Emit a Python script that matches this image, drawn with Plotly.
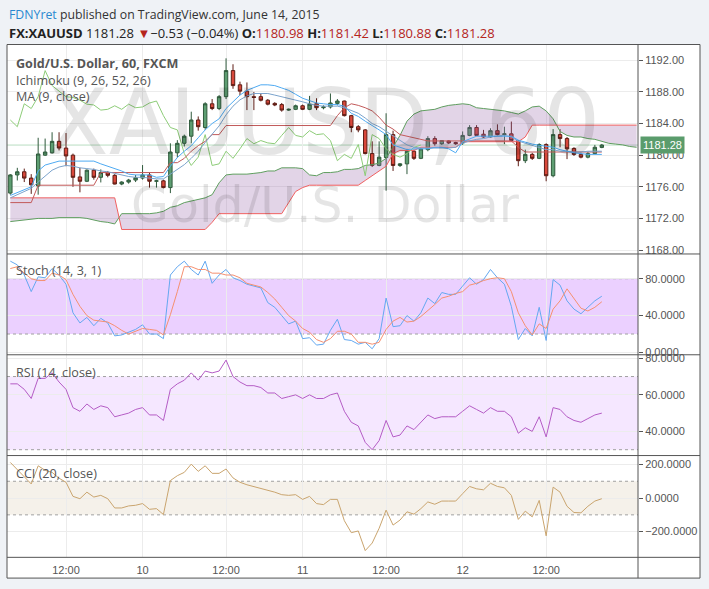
import plotly.graph_objects as go

W, H = 709, 589

# ---------------- data ----------------
bar_index = list(range(86))
open_ = [1175.2, 1177.5, 1177.9, 1177.1, 1176.1, 1180.0, 1180.3, 1181.75, 1180.9, 1180.0,
         1177.25, 1176.7, 1178.1, 1177.2, 1177.8, 1177.45, 1176.35, 1176.6, 1176.85, 1177.1,
         1177.5, 1176.7, 1176.75, 1175.9, 1180.3, 1181.5, 1182.4, 1184.45, 1183.5, 1186.5,
         1185.9, 1187.4, 1190.7, 1188.9, 1188.1, 1187.4, 1187.4, 1186.95, 1186.55, 1186.4,
         1185.7, 1185.8, 1186.25, 1185.8, 1186.5, 1186.0, 1186.1, 1186.55, 1186.85, 1185.0,
         1183.6, 1183.2, 1180.2, 1178.7, 1179.7, 1182.6, 1178.7, 1178.9, 1180.5, 1179.6,
         1180.7, 1182.1, 1181.45, 1181.8, 1181.6, 1181.55, 1182.5, 1183.5, 1182.65, 1182.3,
         1183.1, 1182.6, 1182.7, 1181.85, 1179.3, 1180.1, 1179.6, 1181.35, 1177.4, 1182.6,
         1182.1, 1180.85, 1180.1, 1179.75, 1180.2, 1180.98]
high = [1177.6, 1178.4, 1178.3, 1177.6, 1182.2, 1182.1, 1182.9, 1182.9, 1182.8, 1180.2,
        1178.4, 1178.2, 1178.3, 1178.2, 1178.0, 1177.6, 1176.7, 1177.0, 1177.5, 1178.75,
        1177.8, 1176.9, 1176.9, 1181.5, 1181.9, 1182.6, 1185.5, 1184.9, 1186.7, 1187.1,
        1187.6, 1192.25, 1191.5, 1189.3, 1189.2, 1188.0, 1187.8, 1187.1, 1186.7, 1186.6,
        1185.9, 1186.4, 1186.4, 1187.5, 1187.2, 1186.3, 1187.8, 1187.1, 1186.9, 1185.1,
        1183.8, 1183.3, 1181.75, 1181.75, 1185.3, 1183.1, 1179.0, 1180.8, 1180.7, 1180.9,
        1182.4, 1182.4, 1181.9, 1181.9, 1181.7, 1183.0, 1183.8, 1183.8, 1183.2, 1183.4,
        1183.9, 1183.6, 1184.25, 1181.9, 1180.7, 1180.3, 1181.5, 1181.5, 1183.3, 1183.3,
        1182.3, 1181.0, 1180.3, 1180.4, 1181.3, 1181.42]
low = [1175.0, 1176.8, 1176.6, 1175.1, 1175.0, 1179.9, 1180.2, 1180.6, 1178.6, 1176.0,
       1175.3, 1176.6, 1176.9, 1176.55, 1177.2, 1176.3, 1176.2, 1176.4, 1176.6, 1176.9,
       1175.9, 1175.9, 1175.8, 1175.2, 1179.7, 1181.1, 1181.5, 1183.1, 1183.2, 1185.7,
       1185.7, 1187.1, 1188.4, 1187.6, 1185.7, 1185.7, 1186.8, 1186.3, 1186.2, 1185.5,
       1185.6, 1185.7, 1185.7, 1185.7, 1185.7, 1185.8, 1185.9, 1186.3, 1184.9, 1182.9,
       1182.9, 1180.1, 1178.5, 1178.6, 1175.5, 1178.0, 1178.5, 1177.6, 1179.4, 1179.5,
       1180.5, 1181.2, 1181.3, 1181.4, 1181.3, 1181.3, 1182.4, 1182.4, 1182.2, 1182.2,
       1182.5, 1181.4, 1181.7, 1178.6, 1179.0, 1179.4, 1179.5, 1176.7, 1177.2, 1181.0,
       1179.5, 1179.9, 1179.6, 1179.6, 1180.1, 1180.88]
close = [1177.5, 1177.9, 1177.1, 1176.25, 1180.15, 1180.4, 1181.75, 1180.9, 1179.9, 1177.2,
         1176.7, 1178.1, 1177.2, 1177.8, 1177.45, 1176.35, 1176.6, 1176.85, 1177.15, 1177.5,
         1176.7, 1176.75, 1175.9, 1180.4, 1181.5, 1182.4, 1184.45, 1183.6, 1186.5, 1185.9,
         1187.4, 1190.7, 1188.8, 1188.1, 1187.4, 1187.3, 1186.95, 1186.45, 1186.35, 1185.7,
         1185.8, 1186.25, 1185.8, 1186.45, 1186.0, 1186.1, 1186.6, 1186.85, 1185.0, 1183.5,
         1183.2, 1180.2, 1178.7, 1179.75, 1182.6, 1178.7, 1178.9, 1180.5, 1179.6, 1180.8,
         1182.1, 1181.45, 1181.85, 1181.55, 1181.45, 1182.5, 1183.5, 1182.5, 1182.3, 1183.1,
         1182.6, 1182.7, 1181.85, 1179.3, 1180.1, 1179.6, 1181.35, 1177.4, 1182.6, 1182.1,
         1180.8, 1180.1, 1179.75, 1180.2, 1181.0, 1181.28]

tenkan = [1174.9, 1175.3, 1175.6, 1176.0, 1178.0, 1178.75, 1179.0, 1179.25, 1179.25, 1179.25,
          1179.25, 1179.25, 1179.25, 1178.9, 1178.6, 1178.4, 1178.0, 1177.6, 1177.5, 1177.5,
          1177.5, 1177.2, 1177.3, 1178.6, 1179.7, 1180.5, 1181.2, 1182.2, 1183.2, 1184.0,
          1184.6, 1185.9, 1186.8, 1187.6, 1188.2, 1188.6, 1188.9, 1188.9, 1188.8, 1188.5,
          1188.2, 1187.7, 1187.2, 1186.9, 1186.6, 1186.5, 1186.4, 1186.4, 1186.2, 1185.3,
          1184.9, 1184.3, 1183.8, 1183.2, 1182.6, 1181.3, 1181.0, 1180.7, 1180.8, 1180.8,
          1180.8, 1181.0, 1181.0, 1180.8, 1180.3, 1181.7, 1182.1, 1182.4, 1182.4, 1182.4,
          1182.4, 1182.4, 1182.4, 1181.9, 1181.6, 1181.4, 1181.25, 1181.1, 1181.0, 1180.7,
          1180.5, 1180.3, 1180.2, 1180.1, 1180.1, 1180.1]
kijun = [1174.0] * 4 + [1176.2] * 9 + [1177.8] * 10 + [1179.05] * 2 + \
        [1179.6, 1180.5, 1181.2, 1181.75, 1182.6, 1182.6] + [1183.75] * 16 + \
        [1185.0, 1186.0, 1186.5, 1186.3, 1186.0, 1185.6, 1184.8, 1183.8, 1183.3, 1182.6,
         1182.4, 1182.2, 1182.0] + [1181.8] * 13 + [1181.0] + [1180.4] * 12
ma9 = [1174.6, 1175.0, 1175.4, 1175.8, 1176.6, 1177.4, 1178.1, 1178.5, 1178.7, 1178.6,
       1178.4, 1178.3, 1178.2, 1178.0, 1177.9, 1177.7, 1177.5, 1177.3, 1177.2, 1177.2,
       1177.1, 1177.0, 1177.0, 1177.6, 1178.1, 1178.8, 1179.6, 1180.5, 1181.6, 1182.6,
       1183.7, 1185.1, 1186.2, 1187.0, 1187.5, 1187.8, 1187.8, 1187.8, 1187.6, 1187.4,
       1187.2, 1187.0, 1186.75, 1186.5, 1186.3, 1186.2, 1186.2, 1186.2, 1186.0, 1185.7,
       1185.3, 1184.7, 1184.0, 1183.6, 1183.0, 1182.4, 1181.8, 1181.3, 1181.0, 1180.9,
       1180.9, 1180.9, 1180.9, 1180.9, 1181.0, 1181.5, 1181.8, 1182.0, 1182.1, 1182.3,
       1182.4, 1182.5, 1182.3, 1181.8, 1181.5, 1181.2, 1180.9, 1180.7, 1180.7, 1180.5,
       1180.5, 1180.4, 1180.4, 1180.5, 1180.5, 1180.5]

cloud_index = list(range(91))
span_a = [1171.6, 1171.7, 1171.8, 1171.9, 1172.0, 1172.0, 1172.0, 1172.1, 1172.1, 1172.1,
          1172.1, 1172.0, 1171.8, 1171.6, 1171.5, 1171.3, 1172.6, 1172.6, 1172.6, 1172.6,
          1172.6, 1172.7, 1172.9, 1173.4, 1173.6, 1174.0, 1174.2, 1174.4, 1174.6, 1175.0,
          1176.5, 1177.5, 1177.6, 1177.6, 1177.6, 1177.7, 1177.8, 1178.0, 1178.0, 1178.4,
          1178.4, 1178.4, 1178.3, 1177.5, 1177.4, 1177.8, 1177.8, 1177.9, 1178.2, 1178.2,
          1178.3, 1178.7, 1178.8, 1179.0, 1179.6, 1181.0, 1182.5, 1184.3, 1185.2, 1185.6,
          1185.7, 1185.8, 1186.1, 1186.3, 1186.4, 1186.5, 1186.4, 1186.0, 1185.9, 1185.8,
          1185.7, 1185.6, 1185.4, 1185.2, 1185.6, 1186.1, 1186.2, 1185.6, 1184.6, 1183.0,
          1182.5, 1182.3, 1182.3, 1182.1, 1182.0, 1181.75, 1181.5, 1181.4, 1181.3, 1181.1,
          1181.0]
span_b = [1174.6] * 16 + [1170.6] * 13 + [1171.5] + [1172.6] * 10 + \
         [1174.0, 1175.4, 1175.9] + [1176.2] * 8 + \
         [1176.8, 1177.4, 1178.0, 1178.6, 1180.2] + [1180.6] * 3 + [1181.0] * 6 + \
         [1181.7] * 9 + [1182.3] + [1183.8] * 16

stoch_k = [99, 95, 84, 66, 82, 81, 91, 84, 74, 43, 32, 38, 29, 37, 32, 18, 19, 22, 25, 30,
           20, 20, 15, 84, 93, 99, 90, 84, 99, 75, 84, 90, 81, 78, 74, 72, 70, 54, 49, 40,
           31, 34, 15, 16, 8, 9, 24, 36, 14, 13, 9, 11, 4, 15, 59, 28, 29, 40, 34, 43,
           59, 53, 65, 63, 63, 72, 81, 74, 79, 90, 81, 74, 50, 14, 26, 18, 49, 13, 79, 73,
           56, 47, 42, 49, 56, 61]
stoch_d = [91, 93, 86, 80, 78, 78, 86, 84, 79, 63, 50, 40, 35, 34, 33, 29, 24, 20, 23, 26,
           25, 24, 19, 41, 66, 93, 93, 90, 90, 86, 86, 84, 84, 81, 75, 73, 71, 65, 58, 49,
           40, 34, 26, 22, 14, 11, 15, 23, 23, 20, 11, 11, 9, 11, 25, 34, 38, 33, 34, 39,
           45, 52, 59, 61, 64, 66, 73, 75, 78, 80, 81, 80, 66, 43, 29, 19, 31, 26, 47, 56,
           69, 58, 48, 45, 49, 55]
rsi = [66, 66, 63, 58, 69, 69, 72, 67, 63, 53, 51, 55, 52, 54, 53, 48, 49, 50, 52, 53,
       49, 49, 46, 63, 66, 68, 72, 68, 73, 72, 73, 79, 70, 67, 65, 65, 64, 61, 61, 58,
       59, 60, 58, 60, 58, 58, 60, 61, 51, 45, 43, 34, 30, 35, 46, 37, 38, 43, 41, 45,
       49, 47, 48, 48, 48, 51, 54, 52, 50, 53, 51, 51, 48, 39, 42, 40, 48, 37, 53, 52,
       48, 46, 45, 47, 49, 50]
cci = [212, 170, 130, 84, 192, 165, 153, 118, 94, 10, -4, 35, 6, 16, -4, -59, -59, -47, -43, -33,
       -67, -63, -98, 104, 133, 153, 202, 159, 192, 147, 147, 173, 120, 94, 79, 69, 55, 45, 35, 20,
       16, 20, -8, 10, -33, -39, -8, -8, -135, -206, -196, -313, -268, -180, -72, -161, -131, -82, -96, -63,
       -23, -37, -18, -18, -18, 26, 69, 55, 49, 88, 69, 61, 16, -127, -78, -112, -14, -225, 65, 35,
       -49, -86, -88, -49, -18, -4]

stoch_band = [20, 80]
rsi_band = [30, 70]
cci_band = [-100, 100]

time_tick_index = [8, 19, 31, 42, 54, 65, 77]
time_tick_text = ["12:00", "10", "12:00", "11", "12:00", "12", "12:00"]
price_ticks = [1168, 1172, 1176, 1180, 1184, 1188, 1192]
stoch_ticks = [0, 40, 80]
rsi_ticks = [40, 60, 80]
cci_ticks = [-200, 0, 200]

# ---------------- geometry helpers ----------------
def px(x):
    return x / W

def py(y):
    return 1 - y / H

X_LEFT, X_RIGHT = 7, 638
FRAME_RIGHT = 700
TOP, P1, P2, P3, P4, BOTTOM = 42, 254, 356, 458, 561, 582
XRANGE = [-0.48, 90.2]

AXIS_FONT = dict(family="Liberation Sans, Arial", size=11, color="#555555")
LABEL_FONT = dict(family="Open Sans, sans-serif", size=12.6, color="#555555")
GRID = "#ececec"

fig = go.Figure()

# Ichimoku cloud
fig.add_trace(go.Scatter(x=cloud_index, y=span_a, mode="lines",
                         line=dict(color="#5f9e5f", width=1), xaxis="x", yaxis="y"))
fig.add_trace(go.Scatter(x=cloud_index, y=span_b, mode="lines", fill="tonexty",
                         fillcolor="rgba(150,100,170,0.28)",
                         line=dict(color="#f06060", width=1), xaxis="x", yaxis="y"))
# lagging span = closes shifted back 26 bars
fig.add_trace(go.Scatter(x=bar_index[:len(close) - 26], y=close[26:], mode="lines",
                         line=dict(color="#8dcc78", width=1), xaxis="x", yaxis="y"))
fig.add_trace(go.Scatter(x=bar_index, y=kijun, mode="lines",
                         line=dict(color="#c25a5a", width=1), xaxis="x", yaxis="y"))
fig.add_trace(go.Scatter(x=bar_index, y=ma9, mode="lines",
                         line=dict(color="#7ba3cc", width=1), xaxis="x", yaxis="y"))
fig.add_trace(go.Scatter(x=bar_index, y=tenkan, mode="lines",
                         line=dict(color="#4eaaf2", width=1), xaxis="x", yaxis="y"))
fig.add_trace(go.Candlestick(x=bar_index, open=open_, high=high, low=low, close=close,
                             increasing=dict(fillcolor="#5e9e72", line=dict(color="#2f5a3c", width=1)),
                             decreasing=dict(fillcolor="#d9483b", line=dict(color="#5e1d15", width=1)),
                             whiskerwidth=0, xaxis="x", yaxis="y"))

# Stoch
fig.add_trace(go.Scatter(x=bar_index, y=stoch_k, mode="lines",
                         line=dict(color="#64a8f0", width=1), xaxis="x2", yaxis="y2"))
fig.add_trace(go.Scatter(x=bar_index, y=stoch_d, mode="lines",
                         line=dict(color="#f59070", width=1), xaxis="x2", yaxis="y2"))
# RSI
fig.add_trace(go.Scatter(x=bar_index, y=rsi, mode="lines",
                         line=dict(color="#b45cc5", width=1), xaxis="x3", yaxis="y3"))
# CCI
fig.add_trace(go.Scatter(x=bar_index, y=cci, mode="lines",
                         line=dict(color="#c9a46e", width=1), xaxis="x4", yaxis="y4"))

xdom = [px(X_LEFT), px(X_RIGHT)]

def xaxis_cfg(anchor, labels):
    d = dict(domain=xdom, range=XRANGE, anchor=anchor, showgrid=True, gridcolor=GRID,
             gridwidth=1, zeroline=False, showline=False, tickvals=time_tick_index,
             ticktext=time_tick_text, showticklabels=labels, ticks="",
             tickfont=AXIS_FONT, fixedrange=True)
    if labels:
        d["ticklabelstandoff"] = 5
    return d

def yaxis_cfg(anchor, dom, rng, ticks, fmt):
    return dict(domain=dom, range=rng, anchor=anchor, side="right", showgrid=True,
                gridcolor=GRID, zeroline=False, showline=False, tickvals=ticks,
                tickformat=fmt, ticks="outside", ticklen=4, tickcolor="#555555",
                tickfont=AXIS_FONT, fixedrange=True)

layout = dict(
    width=W, height=H, margin=dict(l=0, r=0, t=0, b=0),
    paper_bgcolor="#eff2f6", plot_bgcolor="rgba(0,0,0,0)", showlegend=False,
    xaxis=dict(xaxis_cfg("y", False), rangeslider=dict(visible=False)),
    xaxis2=xaxis_cfg("y2", False),
    xaxis3=xaxis_cfg("y3", False),
    xaxis4=xaxis_cfg("y4", True),
    yaxis=yaxis_cfg("x", [py(P1), py(TOP + 1)], [1167.5, 1193.875], price_ticks, ".2f"),
    yaxis2=yaxis_cfg("x2", [py(P2), py(P1)], [-2.5, 106.8], stoch_ticks, ".4f"),
    yaxis3=yaxis_cfg("x3", [py(P3), py(P2)], [26.8, 81.9], rsi_ticks, ".4f"),
    yaxis4=yaxis_cfg("x4", [py(P4), py(P3)], [-353, 253], cci_ticks, ".4f"),
)
fig.update_layout(**layout)

shapes = []
# white chart background
shapes.append(dict(type="rect", xref="paper", yref="paper", x0=px(X_LEFT), x1=px(FRAME_RIGHT),
                   y0=py(BOTTOM), y1=py(TOP), fillcolor="white", line=dict(width=0), layer="below"))
# indicator bands
for axis, band, color in (("y2", stoch_band, "rgba(153,21,255,0.2)"),
                          ("y3", rsi_band, "rgba(153,21,255,0.1)"),
                          ("y4", cci_band, "rgba(160,120,50,0.1)")):
    xa = "x" + axis[1:]
    shapes.append(dict(type="rect", xref=xa + " domain", yref=axis, x0=0, x1=1,
                       y0=band[0], y1=band[1], fillcolor=color, line=dict(width=0), layer="below"))
    for v in band:
        shapes.append(dict(type="line", xref=xa + " domain", yref=axis, x0=0, x1=1, y0=v, y1=v,
                           line=dict(color="#a0a0a0", width=1, dash="dot"), layer="below"))
# last price line
shapes.append(dict(type="line", xref="x domain", yref="y", x0=0, x1=1, y0=close[-1], y1=close[-1],
                   line=dict(color="#b9ddc2", width=1), layer="below"))
# frame and separators
frame_col = "#555555"
shapes.append(dict(type="rect", xref="paper", yref="paper", x0=px(X_LEFT), x1=px(FRAME_RIGHT),
                   y0=py(BOTTOM), y1=py(TOP), line=dict(color=frame_col, width=1)))
for yy in (P1, P2, P3, P4):
    shapes.append(dict(type="line", xref="paper", yref="paper", x0=px(X_LEFT), x1=px(FRAME_RIGHT),
                       y0=py(yy), y1=py(yy), line=dict(color=frame_col, width=1)))
shapes.append(dict(type="line", xref="paper", yref="paper", x0=px(X_RIGHT), x1=px(X_RIGHT),
                   y0=py(BOTTOM), y1=py(TOP), line=dict(color=frame_col, width=1)))
fig.update_layout(shapes=shapes)

ann = []
# watermarks
ann.append(dict(text="XAUUSD, 60", xref="paper", yref="paper", x=px(323), y=py(121),
                xanchor="center", yanchor="middle", showarrow=False,
                font=dict(family="DejaVu Sans", size=90, color="rgba(0,0,0,0.1)")))
ann.append(dict(text="Gold/U.S. Dollar", xref="paper", yref="paper", x=px(325), y=py(205),
                xanchor="center", yanchor="middle", showarrow=False,
                font=dict(family="DejaVu Sans", size=49, color="rgba(0,0,0,0.1)")))
# header
ann.append(dict(text="<span style='color:#2a88d0'>FDNYret</span> published on TradingView.com, June 14, 2015",
                xref="paper", yref="paper", x=px(7), y=py(12), xanchor="left", yanchor="middle",
                showarrow=False, font=dict(family="Open Sans, sans-serif", size=12.3, color="#333333")))
red = "#b5241c"
last = close[-1]
line2 = ("<b>FX:XAUUSD</b> %.2f <span style='color:%s'>▼</span>−0.53 (−0.04%%) "
         "<b>O:</b><span style='color:%s'>%.2f</span> <b>H:</b><span style='color:%s'>%.2f</span> "
         "<b>L:</b><span style='color:%s'>%.2f</span> <b>C:</b><span style='color:%s'>%.2f</span>"
         % (last, red, red, open_[-1], red, high[-1], red, low[-1], red, close[-1]))
ann.append(dict(text=line2, xref="paper", yref="paper", x=px(7), y=py(30), xanchor="left",
                yanchor="middle", showarrow=False,
                font=dict(family="Open Sans, sans-serif", size=13, color="#222222")))
# panel titles
ann.append(dict(text="<b>Gold/U.S. Dollar, 60, FXCM</b>", xref="paper", yref="paper", x=px(14), y=py(61),
                xanchor="left", yanchor="middle", showarrow=False, font=LABEL_FONT))
for txt, yy in (("Ichimoku (9, 26, 52, 26)", 78), ("MA (9, close)", 95),
                ("Stoch (14, 3, 1)", 271), ("RSI (14, close)", 374), ("CCI (20, close)", 476)):
    ann.append(dict(text=txt, xref="paper", yref="paper", x=px(14), y=py(yy), xanchor="left",
                    yanchor="middle", showarrow=False, font=LABEL_FONT))
# last price tag
ann.append(dict(text="%.2f" % last, xref="paper", yref="y", x=px(640), y=last, xanchor="left",
                yanchor="middle", showarrow=False, bgcolor="#5a9c6c", borderpad=2,
                font=dict(family="Liberation Sans, Arial", size=11, color="white")))
fig.update_layout(annotations=ann)

fig.write_html("out.html", config={"displayModeBar": False},
               post_script="document.body.style.margin='0px';")
